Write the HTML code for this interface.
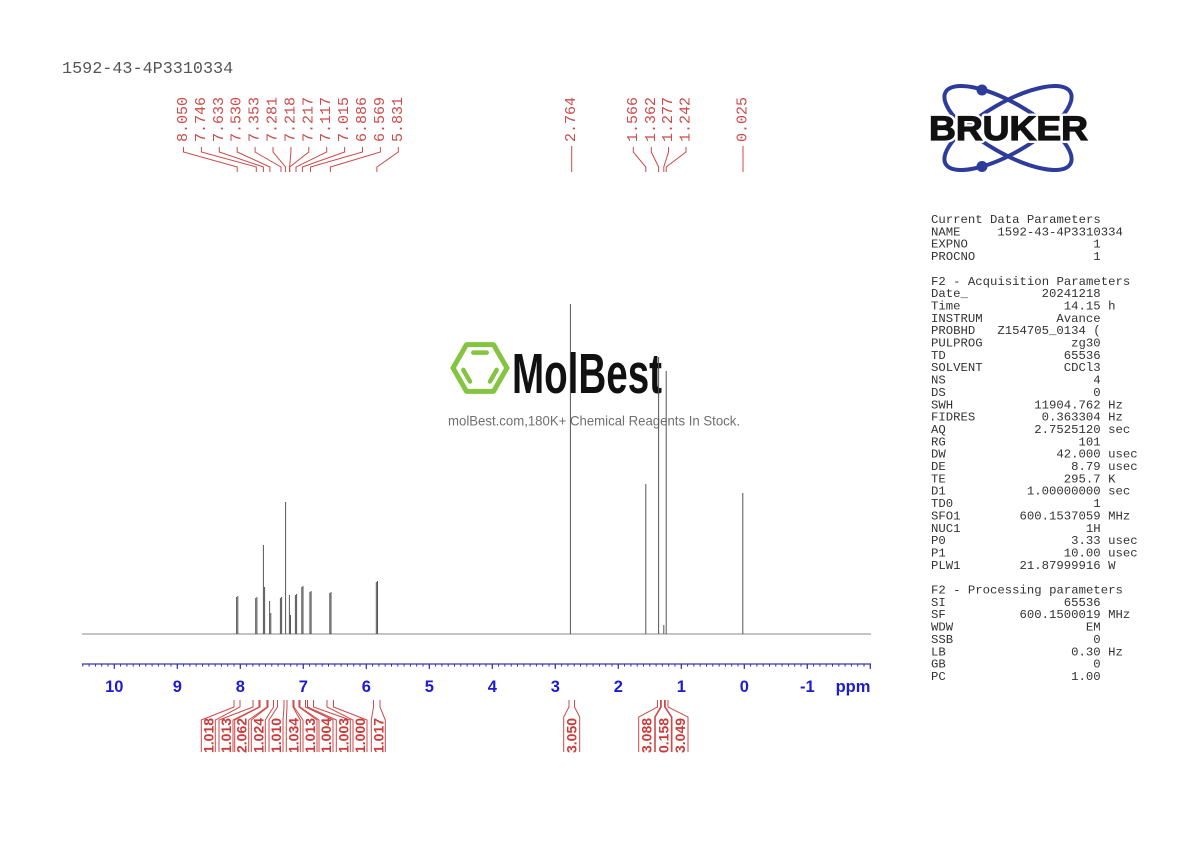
<!DOCTYPE html>
<html><head><meta charset="utf-8"><style>
html,body{margin:0;padding:0;background:#fff;}
svg{display:block;}
</style></head><body>
<svg width="1190" height="842" viewBox="0 0 1190 842" xmlns="http://www.w3.org/2000/svg">
<rect width="1190" height="842" fill="#fff"/>
<text x="62" y="73" font-family="Liberation Mono, monospace" font-size="16.8" fill="#555">1592-43-4P3310334</text>

<!-- Watermark -->
<g fill="none" stroke="#84c441" stroke-width="5" stroke-linejoin="round" stroke-linecap="round">
<polygon points="507,368 493.5,391.4 466.5,391.4 453,368 466.5,344.6 493.5,344.6"/>
<line x1="473.3" y1="352.6" x2="486.7" y2="352.6" stroke-width="4.5"/>
<line x1="463.3" y1="369.9" x2="470" y2="381.5" stroke-width="4.5"/>
<line x1="496.7" y1="369.9" x2="490" y2="381.5" stroke-width="4.5"/>
</g>
<text x="512" y="393" font-family="Liberation Sans, sans-serif" font-weight="bold" font-size="57" textLength="150" lengthAdjust="spacingAndGlyphs" fill="#111">MolBest</text>
<text x="448" y="425.5" font-family="Liberation Sans, sans-serif" font-size="14" fill="#707070" textLength="292" lengthAdjust="spacingAndGlyphs">molBest.com,180K+ Chemical Reagents In Stock.</text>

<!-- Spectrum -->
<g stroke="#555" stroke-width="1" fill="none">
<line x1="82" y1="634" x2="871" y2="634" stroke="#888"/>
<line x1="236.6" y1="634" x2="236.6" y2="597"/><line x1="237.8" y1="634" x2="237.8" y2="596"/>
<line x1="255.7" y1="634" x2="255.7" y2="598"/><line x1="256.9" y1="634" x2="256.9" y2="597"/>
<line x1="263.4" y1="634" x2="263.4" y2="545"/><line x1="264.6" y1="634" x2="264.6" y2="587"/>
<line x1="269.6" y1="634" x2="269.6" y2="601"/><line x1="270.8" y1="634" x2="270.8" y2="613"/>
<line x1="280.4" y1="634" x2="280.4" y2="598"/><line x1="281.6" y1="634" x2="281.6" y2="597"/>
<line x1="285.6" y1="634" x2="285.6" y2="502"/>
<line x1="289.4" y1="634" x2="289.4" y2="595"/><line x1="290.5" y1="634" x2="290.5" y2="615"/>
<line x1="295.4" y1="634" x2="295.4" y2="595"/><line x1="296.6" y1="634" x2="296.6" y2="594"/>
<line x1="301.8" y1="634" x2="301.8" y2="587"/><line x1="303" y1="634" x2="303" y2="586"/>
<line x1="309.9" y1="634" x2="309.9" y2="592"/><line x1="311.1" y1="634" x2="311.1" y2="591"/>
<line x1="329.8" y1="634" x2="329.8" y2="593"/><line x1="331" y1="634" x2="331" y2="592"/>
<line x1="376.3" y1="634" x2="376.3" y2="582"/><line x1="377.5" y1="634" x2="377.5" y2="581"/>
<line x1="570.4" y1="634" x2="570.4" y2="304"/>
<line x1="645.8" y1="634" x2="645.8" y2="484"/>
<line x1="658.6" y1="634" x2="658.6" y2="357"/>
<line x1="663.8" y1="634" x2="663.8" y2="625"/>
<line x1="666.2" y1="634" x2="666.2" y2="371"/>
<line x1="742.8" y1="634" x2="742.8" y2="493"/>
</g>

<!-- Axis -->
<g stroke="#3434b8" fill="none">
<line x1="82" y1="664" x2="871" y2="664" stroke-width="1.2"/>
<line x1="82" y1="665.3" x2="871" y2="665.3" stroke-width="2.6" stroke-dasharray="1 5.3" stroke-dashoffset="-0.3"/>
<line x1="82" y1="666.5" x2="871" y2="666.5" stroke-width="5" stroke-dasharray="1.2 61.8" stroke-dashoffset="-31.7"/>
</g>
<g font-family="Liberation Sans, sans-serif" font-weight="bold" font-size="16.5" fill="#1c1cd0" text-anchor="middle">
<text x="114.3" y="692">10</text>
<text x="177.3" y="692">9</text>
<text x="240.3" y="692">8</text>
<text x="303.3" y="692">7</text>
<text x="366.3" y="692">6</text>
<text x="429.3" y="692">5</text>
<text x="492.3" y="692">4</text>
<text x="555.3" y="692">3</text>
<text x="618.3" y="692">2</text>
<text x="681.3" y="692">1</text>
<text x="744.3" y="692">0</text>
<text x="807.3" y="692">-1</text>
<text x="853" y="692">ppm</text>
</g>

<!-- Peak labels -->
<g font-family="Liberation Mono, monospace" font-size="15" fill="#cc4a4a" dominant-baseline="central">
<text transform="translate(183.5,142) rotate(-90)">8.050</text>
<text transform="translate(201.4,142) rotate(-90)">7.746</text>
<text transform="translate(219.3,142) rotate(-90)">7.633</text>
<text transform="translate(237.2,142) rotate(-90)">7.530</text>
<text transform="translate(255.1,142) rotate(-90)">7.353</text>
<text transform="translate(273,142) rotate(-90)">7.281</text>
<text transform="translate(290.9,142) rotate(-90)">7.218</text>
<text transform="translate(308.8,142) rotate(-90)">7.217</text>
<text transform="translate(326.7,142) rotate(-90)">7.117</text>
<text transform="translate(344.6,142) rotate(-90)">7.015</text>
<text transform="translate(362.5,142) rotate(-90)">6.886</text>
<text transform="translate(380.4,142) rotate(-90)">6.569</text>
<text transform="translate(398.3,142) rotate(-90)">5.831</text>
<text transform="translate(571.7,142) rotate(-90)">2.764</text>
<text transform="translate(633.3,142) rotate(-90)">1.566</text>
<text transform="translate(651.3,142) rotate(-90)">1.362</text>
<text transform="translate(668.5,142) rotate(-90)">1.277</text>
<text transform="translate(686,142) rotate(-90)">1.242</text>
<text transform="translate(743,142) rotate(-90)">0.025</text>
</g>
<g stroke="#cc4a4a" stroke-width="1" fill="none">
<polyline points="183.5,147 183.5,152 237.2,167 237.2,172"/>
<polyline points="201.4,147 201.4,152 256.3,167 256.3,172"/>
<polyline points="219.3,147 219.3,152 263.4,167 263.4,172"/>
<polyline points="237.2,147 237.2,152 269.9,167 269.9,172"/>
<polyline points="255.1,147 255.1,152 281,167 281,172"/>
<polyline points="273,147 273,152 285.6,167 285.6,172"/>
<polyline points="290.9,147 290.9,152 289.6,167 289.6,172"/>
<polyline points="308.8,147 308.8,152 289.7,167 289.7,172"/>
<polyline points="326.7,147 326.7,152 296,167 296,172"/>
<polyline points="344.6,147 344.6,152 302.4,167 302.4,172"/>
<polyline points="362.5,147 362.5,152 310.5,167 310.5,172"/>
<polyline points="380.4,147 380.4,152 330.4,167 330.4,172"/>
<polyline points="398.3,147 398.3,152 376.9,167 376.9,172"/>
<polyline points="571.7,146 571.7,172"/>
<polyline points="633.3,147 633.3,152 645.8,167 645.8,172"/>
<polyline points="651.3,147 651.3,152 658.6,167 658.6,172"/>
<polyline points="668.5,147 668.5,152 663.8,167 663.8,172"/>
<polyline points="686,147 686,152 666.2,167 666.2,172"/>
<polyline points="743,146 743,172"/>
</g>

<!-- Integrals -->
<g stroke="#cc4a4a" stroke-width="1" fill="none">
<polyline points="234,700 234,707 201.3,720 201.3,752"/><polyline points="240,700 240,707 215.3,720 215.3,752"/>
<polyline points="253,700 253,707 219,720 219,752"/><polyline points="259,700 259,707 233,720 233,752"/>
<polyline points="260,700 260,707 234.7,720 234.7,752"/><polyline points="267,700 267,707 248.7,720 248.7,752"/>
<polyline points="268,700 268,707 251.3,720 251.3,752"/><polyline points="273.5,700 273.5,707 265.3,720 265.3,752"/>
<polyline points="277.5,700 277.5,707 269,720 269,752"/><polyline points="284,700 284,707 283,720 283,752"/>
<polyline points="287,700 287,707 286.3,720 286.3,752"/><polyline points="293,700 293,707 300.3,720 300.3,752"/>
<polyline points="294,700 294,707 303,720 303,752"/><polyline points="299,700 299,707 317,720 317,752"/>
<polyline points="300,700 300,707 319,720 319,752"/><polyline points="305.5,700 305.5,707 333,720 333,752"/>
<polyline points="307.5,700 307.5,707 336.3,720 336.3,752"/><polyline points="313.5,700 313.5,707 350.3,720 350.3,752"/>
<polyline points="327,700 327,707 353,720 353,752"/><polyline points="333.5,700 333.5,707 367,720 367,752"/>
<polyline points="373.5,700 373.5,707 371.3,720 371.3,752"/><polyline points="380,700 380,707 385.3,720 385.3,752"/>
<polyline points="569,700 569,707 563.7,717 563.7,752"/><polyline points="574.5,700 574.5,707 579.7,717 579.7,752"/>
<polyline points="657.5,700 657.5,707 638.7,717 638.7,752"/><polyline points="660.5,700 660.5,707 654.7,717 654.7,752"/>
<polyline points="661.3,700 661.3,707 655.3,717 655.3,752"/><polyline points="664.5,700 664.5,707 671.3,717 671.3,752"/>
<polyline points="665.3,700 665.3,707 672,717 672,752"/><polyline points="668,700 668,707 688,717 688,752"/>
</g>
<g font-family="Liberation Sans, sans-serif" font-weight="bold" font-size="14" fill="#cc3a3a" dominant-baseline="central">
<text transform="translate(208.3,753) rotate(-90)">1.018</text>
<text transform="translate(226,753) rotate(-90)">1.013</text>
<text transform="translate(241.7,753) rotate(-90)">2.062</text>
<text transform="translate(258.3,753) rotate(-90)">1.024</text>
<text transform="translate(276,753) rotate(-90)">1.010</text>
<text transform="translate(293.3,753) rotate(-90)">1.034</text>
<text transform="translate(310,753) rotate(-90)">1.013</text>
<text transform="translate(326,753) rotate(-90)">1.004</text>
<text transform="translate(343.3,753) rotate(-90)">1.003</text>
<text transform="translate(360,753) rotate(-90)">1.000</text>
<text transform="translate(378.3,753) rotate(-90)">1.017</text>
<text transform="translate(571.7,753) rotate(-90)">3.050</text>
<text transform="translate(646.7,753) rotate(-90)">3.088</text>
<text transform="translate(663.3,753) rotate(-90)">0.158</text>
<text transform="translate(680,753) rotate(-90)">3.049</text>
</g>

<!-- Bruker logo -->
<g fill="none" stroke="#2d3b9b" stroke-width="4">
<ellipse cx="1008" cy="128" rx="72" ry="25" transform="rotate(30 1008 128)"/>
<ellipse cx="1008" cy="128" rx="72" ry="25" transform="rotate(-30 1008 128)"/>
</g>
<circle cx="982" cy="90" r="5.5" fill="#2d3b9b"/>
<circle cx="982" cy="166.5" r="5.5" fill="#2d3b9b"/>
<text x="929" y="140" font-family="Liberation Sans, sans-serif" font-weight="bold" font-size="34" textLength="159" lengthAdjust="spacingAndGlyphs" fill="#fff" stroke="#fff" stroke-width="6" stroke-linejoin="round">BRUKER</text>
<text x="929" y="140" font-family="Liberation Sans, sans-serif" font-weight="bold" font-size="34" textLength="159" lengthAdjust="spacingAndGlyphs" fill="#111" stroke="#111" stroke-width="1.2">BRUKER</text>

<!-- Parameters -->
<g font-family="Liberation Mono, monospace" font-size="12.3" fill="#333">
<text x="931" y="223">Current Data Parameters</text>
<text x="931" y="235.35">NAME</text><text x="997.4" y="235.35">1592-43-4P3310334</text>
<text x="931" y="247.7">EXPNO</text><text x="1100.7" y="247.7" text-anchor="end">1</text>
<text x="931" y="260.05">PROCNO</text><text x="1100.7" y="260.05" text-anchor="end">1</text>
<text x="931" y="284.75">F2 - Acquisition Parameters</text>
<text x="931" y="297.1">Date_</text><text x="1100.7" y="297.1" text-anchor="end">20241218</text>
<text x="931" y="309.45">Time</text><text x="1100.7" y="309.45" text-anchor="end">14.15</text><text x="1108.1" y="309.45">h</text>
<text x="931" y="321.8">INSTRUM</text><text x="1100.7" y="321.8" text-anchor="end">Avance</text>
<text x="931" y="334.15">PROBHD</text><text x="1100.7" y="334.15" text-anchor="end">Z154705_0134 (</text>
<text x="931" y="346.5">PULPROG</text><text x="1100.7" y="346.5" text-anchor="end">zg30</text>
<text x="931" y="358.85">TD</text><text x="1100.7" y="358.85" text-anchor="end">65536</text>
<text x="931" y="371.2">SOLVENT</text><text x="1100.7" y="371.2" text-anchor="end">CDCl3</text>
<text x="931" y="383.55">NS</text><text x="1100.7" y="383.55" text-anchor="end">4</text>
<text x="931" y="395.9">DS</text><text x="1100.7" y="395.9" text-anchor="end">0</text>
<text x="931" y="408.25">SWH</text><text x="1100.7" y="408.25" text-anchor="end">11904.762</text><text x="1108.1" y="408.25">Hz</text>
<text x="931" y="420.6">FIDRES</text><text x="1100.7" y="420.6" text-anchor="end">0.363304</text><text x="1108.1" y="420.6">Hz</text>
<text x="931" y="432.95">AQ</text><text x="1100.7" y="432.95" text-anchor="end">2.7525120</text><text x="1108.1" y="432.95">sec</text>
<text x="931" y="445.3">RG</text><text x="1100.7" y="445.3" text-anchor="end">101</text>
<text x="931" y="457.65">DW</text><text x="1100.7" y="457.65" text-anchor="end">42.000</text><text x="1108.1" y="457.65">usec</text>
<text x="931" y="470">DE</text><text x="1100.7" y="470" text-anchor="end">8.79</text><text x="1108.1" y="470">usec</text>
<text x="931" y="482.35">TE</text><text x="1100.7" y="482.35" text-anchor="end">295.7</text><text x="1108.1" y="482.35">K</text>
<text x="931" y="494.7">D1</text><text x="1100.7" y="494.7" text-anchor="end">1.00000000</text><text x="1108.1" y="494.7">sec</text>
<text x="931" y="507.05">TD0</text><text x="1100.7" y="507.05" text-anchor="end">1</text>
<text x="931" y="519.4">SFO1</text><text x="1100.7" y="519.4" text-anchor="end">600.1537059</text><text x="1108.1" y="519.4">MHz</text>
<text x="931" y="531.75">NUC1</text><text x="1100.7" y="531.75" text-anchor="end">1H</text>
<text x="931" y="544.1">P0</text><text x="1100.7" y="544.1" text-anchor="end">3.33</text><text x="1108.1" y="544.1">usec</text>
<text x="931" y="556.45">P1</text><text x="1100.7" y="556.45" text-anchor="end">10.00</text><text x="1108.1" y="556.45">usec</text>
<text x="931" y="568.8">PLW1</text><text x="1100.7" y="568.8" text-anchor="end">21.87999916</text><text x="1108.1" y="568.8">W</text>
<text x="931" y="593.5">F2 - Processing parameters</text>
<text x="931" y="605.85">SI</text><text x="1100.7" y="605.85" text-anchor="end">65536</text>
<text x="931" y="618.2">SF</text><text x="1100.7" y="618.2" text-anchor="end">600.1500019</text><text x="1108.1" y="618.2">MHz</text>
<text x="931" y="630.55">WDW</text><text x="1100.7" y="630.55" text-anchor="end">EM</text>
<text x="931" y="642.9">SSB</text><text x="1100.7" y="642.9" text-anchor="end">0</text>
<text x="931" y="655.25">LB</text><text x="1100.7" y="655.25" text-anchor="end">0.30</text><text x="1108.1" y="655.25">Hz</text>
<text x="931" y="667.6">GB</text><text x="1100.7" y="667.6" text-anchor="end">0</text>
<text x="931" y="679.95">PC</text><text x="1100.7" y="679.95" text-anchor="end">1.00</text>
</g>
</svg>
</body></html>
